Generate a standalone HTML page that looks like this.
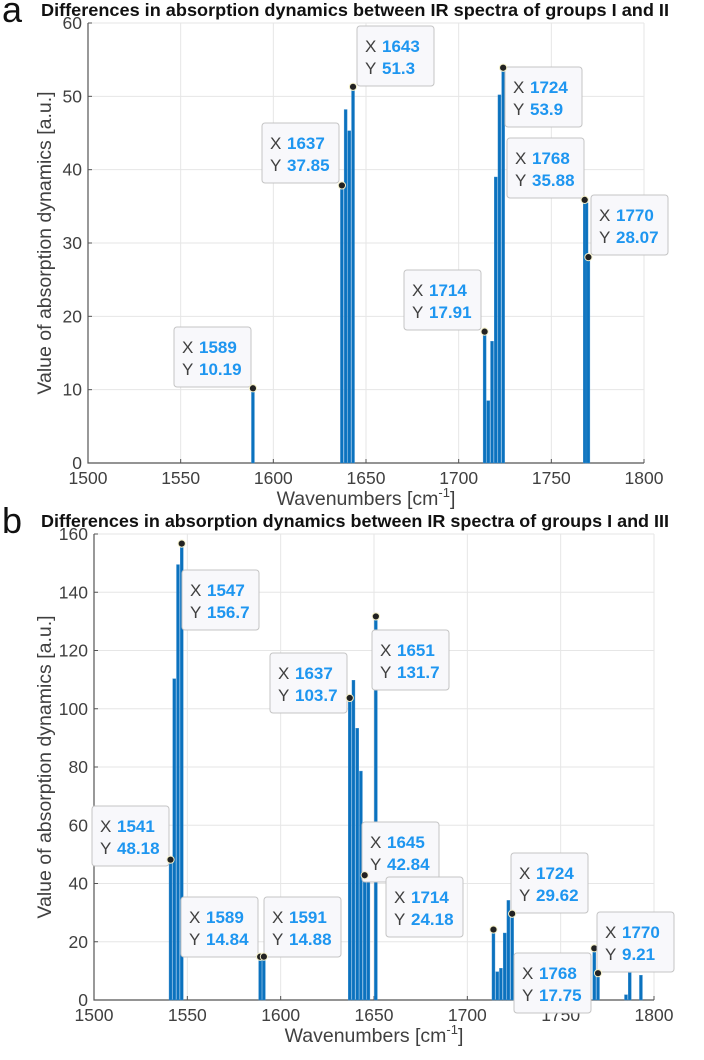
<!DOCTYPE html>
<html><head><meta charset="utf-8"><style>
html,body{margin:0;padding:0;background:#fff;}
svg{display:block;font-family:"Liberation Sans",Arial,sans-serif;}
</style></head><body>
<svg id="svg" width="704" height="1060" viewBox="0 0 704 1060"></svg>
<script>
// Panel a data
const aX = [1589, 1637, 1639, 1641, 1643, 1714, 1716, 1718, 1720, 1722, 1724, 1768, 1769, 1770];
const aY = [10.19, 37.85, 48.2, 45.3, 51.3, 17.91, 8.5, 16.6, 39, 50.2, 53.9, 35.88, 35.5, 28.07];
const aYTicks = [0, 10, 20, 30, 40, 50, 60];
// Panel b data
const bX = [1541, 1543, 1545, 1547, 1589, 1591, 1637, 1639, 1641, 1643, 1645, 1647, 1651, 1714, 1716, 1718, 1720, 1722, 1724, 1768, 1770, 1785, 1787, 1793];
const bY = [48.18, 110.3, 149.5, 156.7, 14.84, 14.88, 103.7, 109.8, 93.3, 78.6, 42.84, 42.5, 131.7, 24.18, 9.7, 10.9, 23, 34.2, 29.62, 17.75, 9.21, 1.8, 9.4, 8.5];
const bYTicks = [0, 20, 40, 60, 80, 100, 120, 140, 160];
const xTicks = [1500, 1550, 1600, 1650, 1700, 1750, 1800];
// datatips
const aTipX = [1589, 1637, 1643, 1714, 1724, 1768, 1770];
const aTipY = [10.19, 37.85, 51.3, 17.91, 53.9, 35.88, 28.07];
const aTipBox = [[174,327],[262,123],[357,26],[404,270],[505,67],[507,138],[591,195]];
const bTipX = [1547, 1651, 1637, 1541, 1645, 1589, 1591, 1714, 1724, 1768, 1770];
const bTipY = [156.7, 131.7, 103.7, 48.18, 42.84, 14.84, 14.88, 24.18, 29.62, 17.75, 9.21];
const bTipBox = [[182,570],[372,630],[270,653],[92,806],[362,822],[181,897],[264,897],[386,877],[511,853],[514,953],[597,912]];

const NS = "http://www.w3.org/2000/svg";
const svg = document.getElementById('svg');
function mk(tag, attrs, parent, text) {
  const e = document.createElementNS(NS, tag);
  for (const k in attrs) e.setAttribute(k, attrs[k]);
  if (text !== undefined) e.textContent = text;
  (parent || svg).appendChild(e);
  return e;
}

function panel(cfg) {
  const g = mk('g', {});
  
  
  const sx = v => cfg.x0 + (v - 1500) / 300 * (cfg.x1 - cfg.x0);
  const sy = v => cfg.y0 - v / cfg.ymax * (cfg.y0 - cfg.y1);
  cfg.yTicks.forEach(t => {
    if (t > 0) { const l = mk('line', {x1: cfg.x0, x2: cfg.x1, y1: sy(t), y2: sy(t), stroke: '#e6e6e6', 'stroke-width': 1}, g);
        }
    const tl = mk('text', {x: cfg.x0 - 6, y: sy(t) + 6, 'text-anchor': 'end', 'font-size': 17.5, fill: '#404040'}, g, String(t));
     
    mk('line', {x1: cfg.x0, x2: cfg.x0 + 4, y1: sy(t), y2: sy(t), stroke: '#555'}, g);
  });
  xTicks.forEach(t => {
    if (t > 1500) { const l = mk('line', {x1: sx(t), x2: sx(t), y1: cfg.y1, y2: cfg.y0, stroke: '#e6e6e6'}, g);
        }
    mk('line', {x1: sx(t), x2: sx(t), y1: cfg.y0, y2: cfg.y0 - 4, stroke: '#555'}, g);
    const tl = mk('text', {x: sx(t), y: cfg.y0 + 21, 'text-anchor': 'middle', 'font-size': 17.5, fill: '#404040'}, g, String(t));
     
  });
  const ax = mk('path', {d: `M${cfg.x0},${cfg.y1} V${cfg.y0} H${cfg.x1}`, fill: 'none', stroke: '#555', 'stroke-width': 1.2}, g);
   
  const bw = 1.6 / 300 * (cfg.x1 - cfg.x0);
  cfg.xs.forEach((x, i) => {
    const r = mk('rect', {x: sx(x) - bw / 2, y: sy(cfg.ys[i]), width: bw, height: cfg.y0 - sy(cfg.ys[i]), fill: '#0b72be', stroke: '#3d8fd0', 'stroke-width': 0.4}, g);
    
    
  });
  const lab = mk('text', {x: cfg.letterX, y: cfg.titleY + 12, 'font-size': 36, fill: '#111'}, g, cfg.letter);
   
  const tt = mk('text', {x: 355, y: cfg.titleY + 6, 'text-anchor': 'middle', 'font-size': 17.5, 'font-weight': 'bold', fill: '#111', textLength: 628, lengthAdjust: 'spacingAndGlyphs'}, g, cfg.title);
   
  const yt = mk('text', {x: 0, y: 0, transform: `translate(51,${(cfg.y0 + cfg.y1) / 2}) rotate(-90)`, 'text-anchor': 'middle', 'font-size': 19.5, fill: '#404040'}, g, 'Value of absorption dynamics [a.u.]');
   
  const xt = mk('text', {x: (cfg.x0 + cfg.x1) / 2, y: cfg.y0 + 42, 'text-anchor': 'middle', 'font-size': 19.5, fill: '#404040'}, g);
   
  xt.appendChild(document.createTextNode('Wavenumbers [cm'));
  mk('tspan', {dy: -8, 'font-size': 13}, xt, '-1');
  mk('tspan', {dy: 8}, xt, ']');
  cfg.tipX.forEach((x, i) => {
    const [bx, by] = cfg.tipBox[i];
    const tg = mk('g', {}, g);
    
    
    mk('rect', {x: bx, y: by, width: 77, height: 60, rx: 3, fill: '#f8f8fb', stroke: '#c4c4c4', 'stroke-width': 1}, tg);
    mk('text', {x: bx + 8, y: by + 26, 'font-size': 17, fill: '#404040'}, tg, 'X');
    mk('text', {x: bx + 25, y: by + 26, 'font-size': 17, 'font-weight': 'bold', fill: '#1e96f0'}, tg, String(x));
    mk('text', {x: bx + 8, y: by + 48, 'font-size': 17, fill: '#404040'}, tg, 'Y');
    mk('text', {x: bx + 25, y: by + 48, 'font-size': 17, 'font-weight': 'bold', fill: '#1e96f0'}, tg, String(cfg.tipY[i]));
    mk('circle', {cx: sx(x), cy: sy(cfg.tipY[i]), r: 3.6, fill: '#222', stroke: '#f3efc8', 'stroke-width': 1}, tg);
  });
}

panel({name: 'panel-a', letter: 'a', letterX: 2, titleY: 10,
  title: 'Differences in absorption dynamics between IR spectra of groups I and II',
  x0: 88, x1: 644, y0: 463, y1: 23, ymax: 60, yTicks: aYTicks, xs: aX, ys: aY,
  tipX: aTipX, tipY: aTipY, tipBox: aTipBox});
panel({name: 'panel-b', letter: 'b', letterX: 2, titleY: 521,
  title: 'Differences in absorption dynamics between IR spectra of groups I and III',
  x0: 94, x1: 654, y0: 1000, y1: 534, ymax: 160, yTicks: bYTicks, xs: bX, ys: bY,
  tipX: bTipX, tipY: bTipY, tipBox: bTipBox});
</script>
</body></html>
